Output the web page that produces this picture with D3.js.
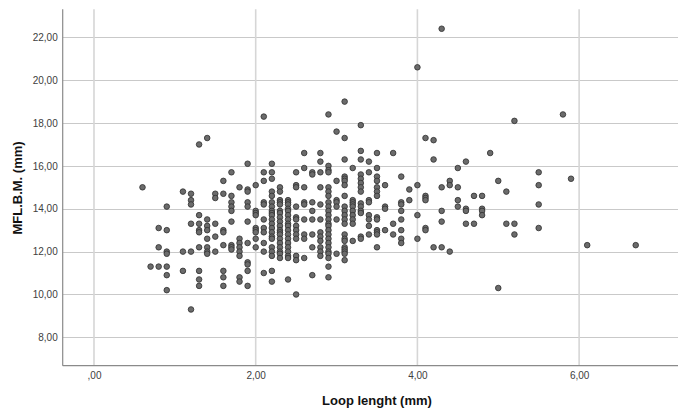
<!DOCTYPE html>
<html>
<head>
<meta charset="utf-8">
<script src="https://cdn.jsdelivr.net/npm/d3@7"></script>
<style>
  html, body { margin: 0; padding: 0; background: #fff; }
  svg { display: block; font-family: "Liberation Sans", Arial, sans-serif; }
</style>
</head>
<body>
<svg id="chart" width="678" height="409"></svg>
<script>
// Loop length columns (mm) and the MFL.B.M. values read at each column
const loopLength = [0.6, 0.7, 0.8, 0.9, 1.1, 1.2, 1.3, 1.4, 1.5, 1.6, 1.7, 1.8, 1.9, 2.0,
  2.1, 2.2, 2.3, 2.4, 2.5, 2.6, 2.7, 2.8, 2.9, 3.0, 3.1, 3.2, 3.3, 3.4, 3.5, 3.6, 3.7,
  3.8, 3.9, 4.0, 4.1, 4.2, 4.3, 4.4, 4.5, 4.6, 4.7, 4.8, 4.9, 5.0, 5.1, 5.2, 5.5, 5.8,
  5.9, 6.1, 6.7];

const mflBM = [
  [15.0],
  [11.3],
  [13.1, 12.2, 11.3],
  [14.1, 13.0, 12.0, 11.9, 11.3, 10.9, 10.2],
  [14.8, 12.0, 11.1],
  [14.7, 14.4, 14.2, 13.3, 12.0, 9.3],
  [17.0, 13.7, 13.3, 13.0, 12.9, 12.2, 11.1, 10.7, 10.4],
  [17.3, 13.5, 13.2, 13.0, 12.6, 12.2, 12.0, 11.9],
  [14.7, 14.5, 13.3, 12.7, 12.0],
  [15.3, 14.7, 13.0, 12.9, 12.3, 11.1, 10.8, 10.4],
  [15.7, 14.6, 14.3, 14.1, 13.9, 13.4, 12.3, 12.2, 12.1],
  [15.0, 12.6, 12.4, 12.2, 12.0, 11.8, 10.8, 10.6],
  [16.1, 14.9, 14.8, 14.3, 14.1, 13.4, 12.4, 11.5, 11.4, 11.1, 10.4],
  [15.1, 13.9, 13.8, 13.7, 13.1, 13.0, 12.9, 12.6, 12.2],
  [18.3, 15.7, 15.3, 14.3, 14.2, 13.5, 13.1, 12.9, 12.4, 12.0, 11.0],
  [16.1, 15.7, 15.4, 14.8, 14.6, 14.3, 14.1, 13.9, 13.8, 13.7, 13.5, 13.3, 13.1, 12.9,
   12.7, 12.6, 12.2, 12.0, 11.8, 11.1, 10.6],
  [15.0, 14.8, 14.4, 14.3, 14.2, 13.9, 13.8, 13.6, 13.4, 13.2, 13.0, 12.9, 12.8, 12.6,
   12.4, 12.2, 12.0, 11.9, 11.7],
  [14.4, 14.3, 14.2, 14.0, 13.9, 13.7, 13.5, 13.3, 13.2, 13.0, 12.8, 12.6, 12.4, 12.2,
   12.0, 11.8, 11.7, 10.7],
  [15.7, 15.1, 15.0, 14.1, 13.6, 13.5, 13.2, 13.0, 12.8, 12.6, 11.8, 11.6, 10.0],
  [16.6, 15.9, 15.0, 14.3, 14.2, 13.5, 12.8, 12.6, 11.7],
  [15.7, 15.6, 14.3, 13.9, 13.5, 12.8, 12.2, 10.9],
  [16.6, 16.2, 15.7, 15.0, 14.2, 13.5, 12.9, 12.7, 12.5, 12.2, 12.0, 11.8],
  [18.4, 16.0, 15.8, 15.7, 15.0, 14.8, 14.6, 14.3, 14.1, 13.9, 13.7, 13.5, 13.3, 13.2,
   13.0, 12.8, 12.6, 12.4, 12.2, 12.0, 11.9, 11.7, 11.3, 10.8],
  [17.6, 15.3, 14.4, 14.3, 14.1, 13.5, 11.9],
  [19.0, 17.3, 16.3, 15.5, 15.4, 15.3, 15.1, 14.6, 14.1, 13.9, 13.7, 13.5, 13.3, 12.8,
   12.6, 12.5, 12.2, 12.1, 12.0, 11.9, 11.6],
  [15.9, 14.4, 14.3, 14.2, 14.1, 13.9, 13.7, 13.5, 13.3, 12.5],
  [17.9, 16.7, 16.3, 15.6, 15.4, 15.2, 15.0, 14.8, 14.25, 14.1, 13.9, 13.8, 12.7, 12.6],
  [16.2, 15.7, 14.4, 14.3, 13.7, 13.5, 13.2, 12.8],
  [16.6, 15.9, 15.5, 15.3, 15.0, 14.8, 14.6, 13.6, 13.5, 13.0, 12.9, 12.8, 12.2],
  [15.1, 14.1, 14.0, 13.0],
  [16.6, 13.3, 12.8],
  [15.5, 14.3, 14.2, 13.9, 13.5, 13.0, 12.6, 12.4],
  [14.9, 14.4],
  [20.6, 15.1, 13.7, 12.6],
  [17.3, 14.6, 14.5, 14.4, 13.1, 13.0],
  [17.2, 16.3, 12.2],
  [22.4, 15.0, 13.9, 13.4, 12.2],
  [15.3, 15.1, 12.0],
  [15.9, 15.0, 14.4, 14.1],
  [16.2, 14.0, 13.9, 13.3],
  [14.6, 13.3],
  [14.6, 14.0, 13.9, 13.7],
  [16.6],
  [15.3, 10.3],
  [14.8, 13.3],
  [18.1, 13.3, 12.8],
  [15.7, 15.1, 14.2, 13.1],
  [18.4],
  [15.4],
  [12.3],
  [12.3]
];

const xTicks = [0, 2, 4, 6];
const yTicks = [8, 10, 12, 14, 16, 18, 20, 22];

const points = loopLength.flatMap((x, i) => mflBM[i].map(y => ({ x, y })));

const svg = d3.select('#chart');
const L = 62.7, R = 678, T = 9.3, B = 365.7;

const x = d3.scaleLinear().domain([-0.387, 7.223]).range([L, R]);
const y = d3.scaleLinear().domain([6.675, 23.307]).range([B, T]);

// SPSS style numbers: comma decimal, no leading zero
const fmt = v => v.toFixed(2).replace('.', ',').replace(/^0,/, ',');

// grid
svg.append('g')
  .selectAll('line').data(yTicks).join('line')
  .attr('x1', L).attr('x2', R)
  .attr('y1', d => Math.round(y(d)) + 0.5).attr('y2', d => Math.round(y(d)) + 0.5)
  .attr('stroke', '#c9c9c9').attr('stroke-width', 1);

svg.append('g')
  .selectAll('line').data(xTicks).join('line')
  .attr('x1', d => x(d)).attr('x2', d => x(d))
  .attr('y1', T).attr('y2', B)
  .attr('stroke', '#d6d6d6').attr('stroke-width', 1.6);

// axes (labels only, no tick marks)
const yAxis = svg.append('g')
  .attr('transform', `translate(${L},0)`)
  .call(d3.axisLeft(y).tickValues(yTicks).tickSize(0).tickPadding(5).tickFormat(fmt));
yAxis.select('.domain').remove();

const xAxis = svg.append('g')
  .attr('transform', `translate(0,${B})`)
  .call(d3.axisBottom(x).tickValues(xTicks).tickSize(0).tickPadding(6).tickFormat(fmt));
xAxis.select('.domain').remove();

svg.selectAll('.tick text')
  .attr('font-family', '"Liberation Sans", Arial, sans-serif')
  .attr('font-size', 10)
  .attr('fill', '#404040');

// axis lines
svg.append('line')
  .attr('x1', L).attr('x2', L).attr('y1', T).attr('y2', B)
  .attr('stroke', '#8a8a8a').attr('stroke-width', 1.2);
svg.append('line')
  .attr('x1', L).attr('x2', R).attr('y1', B).attr('y2', B)
  .attr('stroke', '#8a8a8a').attr('stroke-width', 1.2);

// points
svg.append('g')
  .selectAll('circle').data(points).join('circle')
  .attr('cx', d => x(d.x))
  .attr('cy', d => y(d.y))
  .attr('r', 2.8)
  .attr('fill', '#6b6b6b')
  .attr('stroke', '#2e2e2e')
  .attr('stroke-width', 0.8);

// axis titles
svg.append('text')
  .attr('x', 377).attr('y', 405)
  .attr('text-anchor', 'middle')
  .attr('font-size', 13).attr('font-weight', 'bold').attr('fill', '#111')
  .text('Loop lenght (mm)');

svg.append('text')
  .attr('transform', 'translate(22,188) rotate(-90)')
  .attr('text-anchor', 'middle')
  .attr('font-size', 13).attr('font-weight', 'bold').attr('fill', '#111')
  .text('MFL.B.M. (mm)');
</script>
</body>
</html>
